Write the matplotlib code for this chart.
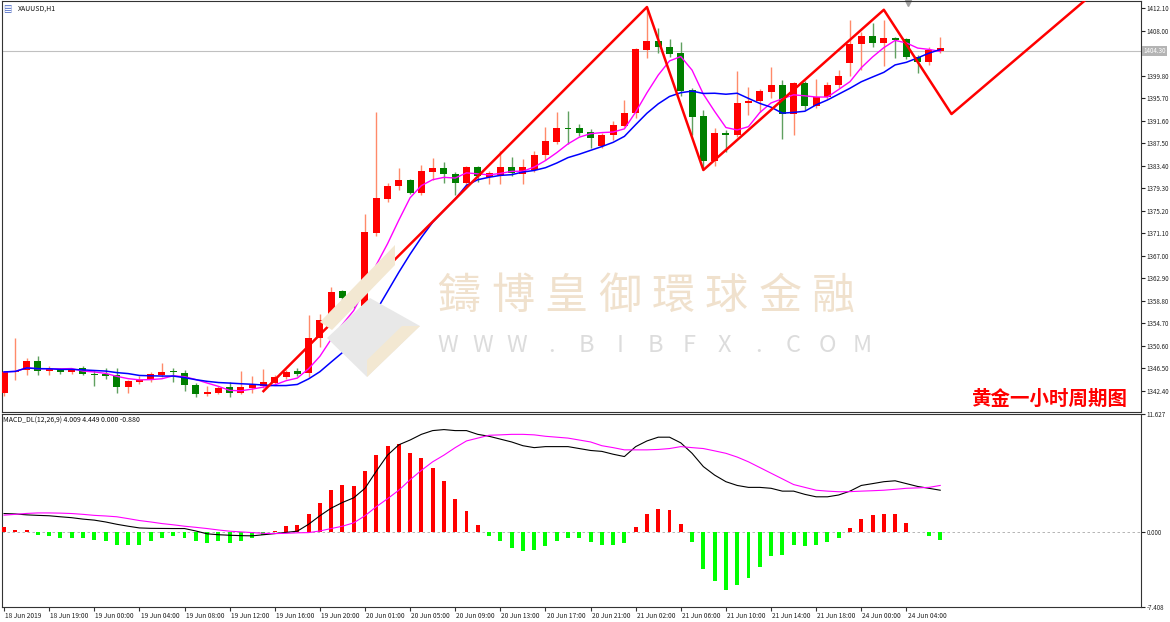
import numpy as np
import pandas as pd
import matplotlib
matplotlib.use("Agg")
import matplotlib.pyplot as plt
from matplotlib.patches import Polygon

plt.rcParams['font.family'] = ['Noto Sans CJK SC', 'DejaVu Sans']

# XAUUSD H1 candles (open, high, low, close)
opens = [1341.9, 1345.7, 1346.1, 1347.8, 1346.0, 1346.3, 1345.7, 1346.5, 1345.5, 1345.4,
         1345.2, 1343.0, 1343.9, 1344.3, 1345.2, 1346.0, 1345.6, 1343.4, 1341.8, 1342.0,
         1343.0, 1342.0, 1342.8, 1343.2, 1343.8, 1344.9, 1346.0, 1345.6, 1352.0, 1355.3,
         1360.5, 1359.1, 1357.8, 1371.1, 1377.3, 1379.6, 1380.8, 1378.4, 1382.2, 1382.9,
         1381.8, 1380.2, 1383.1, 1381.4, 1381.6, 1383.1, 1381.8, 1382.6, 1385.3, 1387.7,
         1390.3, 1390.2, 1389.5, 1386.9, 1388.9, 1390.7, 1393.0, 1404.4, 1406.1, 1405.0,
         1403.9, 1397.1, 1392.4, 1384.2, 1389.4, 1389.0, 1394.8, 1395.1, 1396.8, 1398.1,
         1392.8, 1398.4, 1394.2, 1395.9, 1398.1, 1402.1, 1405.5, 1407.0, 1405.7, 1406.6,
         1406.4, 1403.2, 1402.3, 1404.3]
highs = [1345.9, 1351.9, 1348.4, 1348.7, 1346.9, 1346.6, 1346.6, 1346.8, 1346.1, 1346.5,
         1346.5, 1344.3, 1345.0, 1345.8, 1347.4, 1346.5, 1346.2, 1343.7, 1343.2, 1343.3,
         1344.0, 1346.0, 1345.0, 1346.4, 1345.2, 1346.2, 1346.6, 1356.2, 1356.4, 1361.2,
         1360.7, 1359.8, 1374.5, 1393.2, 1380.3, 1383.0, 1381.0, 1383.5, 1384.8, 1384.0,
         1382.3, 1383.4, 1383.4, 1382.5, 1386.0, 1385.0, 1384.6, 1386.0, 1390.4, 1393.2,
         1393.4, 1391.0, 1390.0, 1389.4, 1391.5, 1395.3, 1404.8, 1412.3, 1408.5, 1406.5,
         1406.0, 1397.6, 1393.5, 1390.2, 1389.9, 1400.6, 1397.8, 1397.4, 1401.4, 1399.0,
         1398.6, 1398.8, 1399.2, 1398.6, 1400.8, 1410.0, 1407.8, 1409.4, 1410.0, 1406.9,
         1406.6, 1403.6, 1405.0, 1406.9]
lows = [1341.5, 1344.3, 1345.2, 1345.2, 1345.2, 1345.4, 1345.5, 1345.2, 1343.3, 1344.5,
        1341.9, 1342.0, 1343.6, 1344.0, 1344.8, 1343.9, 1342.3, 1341.3, 1341.5, 1341.8,
        1341.2, 1341.7, 1341.9, 1342.8, 1343.5, 1344.5, 1345.0, 1344.9, 1350.3, 1355.0,
        1358.4, 1357.5, 1357.5, 1370.5, 1376.8, 1379.0, 1378.2, 1378.0, 1380.8, 1380.2,
        1378.0, 1379.6, 1380.5, 1380.0, 1380.0, 1381.5, 1380.0, 1382.3, 1384.5, 1387.3,
        1387.4, 1388.8, 1386.7, 1386.6, 1388.0, 1390.4, 1392.0, 1403.0, 1404.0, 1403.2,
        1396.0, 1389.0, 1382.6, 1383.4, 1385.9, 1388.7, 1392.6, 1393.2, 1395.7, 1388.3,
        1389.0, 1393.5, 1393.9, 1395.6, 1397.6, 1399.7, 1400.8, 1405.0, 1401.6, 1403.0,
        1402.8, 1400.2, 1401.8, 1404.0]
closes = [1345.8, 1346.0, 1347.8, 1346.0, 1346.3, 1345.7, 1346.3, 1345.5, 1345.2, 1345.0,
          1343.0, 1344.2, 1344.4, 1345.4, 1345.8, 1345.7, 1343.4, 1341.8, 1342.2, 1342.8,
          1342.0, 1343.0, 1343.4, 1344.0, 1344.8, 1345.8, 1345.4, 1351.9, 1355.3, 1360.4,
          1359.3, 1358.0, 1371.3, 1377.5, 1379.7, 1380.8, 1378.4, 1382.4, 1382.9, 1381.8,
          1380.2, 1383.1, 1381.5, 1382.0, 1383.1, 1382.1, 1383.2, 1385.3, 1387.9, 1390.3,
          1390.1, 1389.3, 1388.5, 1388.9, 1390.8, 1393.0, 1404.6, 1406.1, 1405.0, 1403.7,
          1397.0, 1392.2, 1384.2, 1389.3, 1389.0, 1394.8, 1395.2, 1397.0, 1398.1, 1392.8,
          1398.4, 1394.3, 1395.9, 1398.1, 1399.7, 1405.5, 1407.0, 1405.7, 1406.6, 1406.3,
          1403.2, 1402.3, 1404.5, 1404.8]

# MACD_DL(12,26,9)
macd_hist = [0.5, 0.19, 0.19, -0.26, -0.39, -0.65, -0.65, -0.65, -0.82, -0.89,
             -1.25, -1.25, -1.25, -0.93, -0.65, -0.43, -0.65, -0.89, -1.06, -0.93,
             -1.06, -0.89, -0.6, -0.33, 0.13, 0.56, 0.65, 1.72, 2.8, 4.13,
             4.62, 4.52, 6.04, 7.59, 8.48, 8.65, 7.75, 7.26, 6.27, 5.02,
             3.23, 2.05, 0.65, -0.39, -0.93, -1.59, -1.91, -1.81, -1.42, -0.93,
             -0.65, -0.65, -0.99, -1.32, -1.32, -1.06, 0.5, 1.72, 2.21, 2.15,
             0.82, -0.99, -3.7, -4.88, -5.77, -5.28, -4.56, -3.5, -2.41, -2.31,
             -1.32, -1.42, -1.32, -0.99, -0.6, 0.39, 1.32, 1.65, 1.78, 1.72,
             0.92, 0.0, -0.39, -0.82]
macd_main = [1.81, 1.77, 1.68, 1.63, 1.59, 1.49, 1.4, 1.26, 1.16, 0.98,
             0.75, 0.56, 0.39, 0.35, 0.34, 0.33, 0.33, 0.09, -0.19, -0.28,
             -0.33, -0.37, -0.39, -0.28, -0.17, -0.05, 0.07, 0.75, 1.59, 2.34,
             2.9, 3.36, 4.3, 5.98, 7.57, 8.59, 9.06, 9.62, 9.99, 10.09,
             9.99, 9.99, 9.62, 9.43, 9.15, 8.87, 8.5, 8.31, 8.41, 8.41,
             8.41, 8.22, 8.03, 7.94, 7.66, 7.43, 8.41, 8.97, 9.34, 9.34,
             8.78, 7.75, 6.44, 5.6, 4.95, 4.58, 4.39, 4.39, 4.3, 4.02,
             4.02, 3.7, 3.46, 3.46, 3.64, 4.02, 4.58, 4.76, 4.95, 5.04,
             4.76, 4.48, 4.3, 4.11]
macd_signal = [1.65, 1.73, 1.82, 1.87, 1.87, 1.85, 1.81, 1.73, 1.63, 1.57,
               1.49, 1.31, 1.12, 0.98, 0.82, 0.7, 0.56, 0.45, 0.33, 0.19,
               0.07, 0.0, -0.07, -0.14, -0.17, -0.14, -0.09, -0.07, 0.09, 0.33,
               0.56, 0.89, 1.59, 2.48, 3.27, 4.11, 5.14, 6.07, 6.91, 7.57,
               8.31, 8.97, 9.25, 9.53, 9.57, 9.62, 9.62, 9.57, 9.43, 9.34,
               9.25, 9.06, 8.87, 8.5, 8.31, 8.09, 8.09, 8.09, 8.13, 8.22,
               8.41, 8.31, 8.22, 7.99, 7.75, 7.38, 6.91, 6.35, 5.79, 5.23,
               4.67, 4.39, 4.11, 4.02, 3.96, 3.97, 4.02, 4.06, 4.11, 4.2,
               4.3, 4.34, 4.39, 4.58]

# hand-drawn zigzag (bar index, price)
zig_x = [23, 57, 62, 78, 84, 96]
zig_y = [1342.3, 1412.3, 1382.6, 1411.8, 1392.8, 1413.8]

tick_bars = list(range(0, 84, 4))
tick_labels = ["18 Jun 2019", "18 Jun 19:00", "19 Jun 00:00", "19 Jun 04:00", "19 Jun 08:00",
               "19 Jun 12:00", "19 Jun 16:00", "19 Jun 20:00", "20 Jun 01:00", "20 Jun 05:00",
               "20 Jun 09:00", "20 Jun 13:00", "20 Jun 17:00", "20 Jun 21:00", "21 Jun 02:00",
               "21 Jun 06:00", "21 Jun 10:00", "21 Jun 14:00", "21 Jun 18:00", "24 Jun 00:00",
               "24 Jun 04:00"]
price_ticks = [1412.10, 1408.00, 1399.80, 1395.70, 1391.60, 1387.50, 1383.40, 1379.30,
               1375.20, 1371.10, 1367.00, 1362.90, 1358.80, 1354.70, 1350.60, 1346.50, 1342.40]
last_price = 1404.30
macd_top, macd_bottom = 11.627, -7.408

W, H = 1170, 622
fig = plt.figure(figsize=(W / 100, H / 100), dpi=100)
fig.patch.set_facecolor('white')

def fbox(x0, y0, x1, y1):
    return [x0 / W, 1 - y1 / H, (x1 - x0) / W, (y1 - y0) / H]

ax = fig.add_axes(fbox(2, 1, 1141, 412))
axm = fig.add_axes(fbox(2, 414, 1141, 607))

x = np.arange(len(closes))
o = np.array(opens); c = np.array(closes); hi = np.array(highs); lo = np.array(lows)
up = c >= o

# watermark (behind data)
def fp(pts):
    return [(px / W, 1 - py / H) for px, py in pts]

fig.add_artist(Polygon(fp([(327, 338), (370, 298), (420, 326), (367, 377)]),
                       closed=True, fc='#e8e8e8', ec='none', zorder=0.5))
fig.add_artist(Polygon(fp([(420, 326), (367, 377), (367, 360), (402, 326)]),
                       closed=True, fc='#f3e8d2', ec='none', zorder=0.55))
fig.add_artist(Polygon(fp([(320, 322), (395, 245), (395, 265), (332, 330)]),
                       closed=True, fc='#f3e8d2', ec='none', zorder=0.55))
for k, ch in enumerate("鑄博皇御環球金融"):
    fig.text((459 + 53.5 * k) / W, 1 - 297 / H, ch, fontsize=31, color='#f0e1cd',
             ha='center', va='center', zorder=0.6)
for k, ch in enumerate("WWW.BIBFX.COM"):
    fig.text((448 + 34.5 * k) / W, 1 - 345 / H, ch, fontsize=17, color='#dcdcdc',
             ha='center', va='center', zorder=0.6)

for a in (ax, axm):
    a.set_facecolor('none')
    a.set_xlim(-0.18, 100.8)
    for s in a.spines.values():
        s.set_color('#333333')
        s.set_linewidth(0.8)
    a.yaxis.tick_right()
    a.tick_params(axis='y', labelsize=4.5, length=3, pad=1, colors='#222222')
    a.tick_params(axis='x', length=0, labelbottom=False)

ax.set_ylim(1338.5, 1413.4)
ax.set_yticks(price_ticks)
ax.set_yticklabels([f"{v:.2f}" for v in price_ticks])

# wicks and bodies
ax.vlines(x[up], lo[up], hi[up], color='#ff8a6a', lw=1.0, zorder=2)
ax.vlines(x[~up], lo[~up], hi[~up], color='#60a060', lw=1.0, zorder=2)
ax.bar(x[up], c[up] - o[up], bottom=o[up], width=0.62, color='#ff0000', zorder=3)
ax.bar(x[~up], o[~up] - c[~up], bottom=c[~up], width=0.62, color='#007f00', zorder=3)

cs = pd.Series(closes)
ax.plot(x, cs.rolling(5, min_periods=1).mean(), color='#ff00ff', lw=1.0, zorder=4)
ax.plot(x, cs.rolling(10, min_periods=1).mean(), color='#0000ff', lw=1.1, zorder=4)
ax.plot(zig_x, zig_y, color='#ff0000', lw=1.8, zorder=5)

ax.axhline(last_price, color='#c0c0c0', lw=0.8, zorder=1)
ax.text(1.002, last_price, f"{last_price:.2f}", transform=ax.get_yaxis_transform(), fontsize=4.5,
        color='white', va='center', ha='left',
        bbox=dict(boxstyle='square,pad=0.2', fc='#b4b4b4', ec='none'), zorder=6)
ax.plot([80.1], [1413.0], marker='v', color='#a0a0a0', ms=4, clip_on=False)

ax.text(1 / 1139, 1 - 8 / 411, "\u25a4", transform=ax.transAxes, fontsize=6, color='#4060c0',
        va='center', ha='left')
ax.text(16 / 1139, 1 - 8 / 411, "XAUUSD,H1", transform=ax.transAxes, fontsize=5, va='center',
        ha='left', color='#111111')
ax.text(1125 / 1139, 13 / 411, "黄金一小时周期图", transform=ax.transAxes, fontsize=14,
        fontweight='bold', color='#ff0000', ha='right', va='center', zorder=7)

# MACD panel
axm.set_ylim(macd_bottom, macd_top)
axm.set_yticks([macd_top, 0.0, macd_bottom])
axm.set_yticklabels([f"{macd_top:.3f}", "0.000", f"{macd_bottom:.3f}"])
hist = np.array(macd_hist)
axm.bar(x[hist >= 0], hist[hist >= 0], width=0.35, color='#ff0000', zorder=3)
axm.bar(x[hist < 0], hist[hist < 0], width=0.35, color='#00ff00', zorder=3)
axm.plot(x, macd_main, color='#000000', lw=0.8, zorder=4)
axm.plot(x, macd_signal, color='#ff00ff', lw=0.8, zorder=4)
axm.axhline(0, color='#aaaaaa', lw=0.6, ls=(0, (3, 3)), zorder=1)
axm.text(1 / 1139, 1 - 7 / 193, "MACD_DL(12,26,9) 4.009 4.449 0.000 -0.880", transform=axm.transAxes,
         fontsize=5, va='center', ha='left', color='#111111')

axm.set_xticks(tick_bars)
axm.tick_params(axis='x', length=3, direction='out', colors='#333333')
for b, lab in zip(tick_bars, tick_labels):
    axm.text(b + 0.1, -0.025, lab, transform=axm.get_xaxis_transform(), fontsize=4.8, ha='left',
             va='top', color='#222222')

fig.savefig('out.png', dpi=100)
